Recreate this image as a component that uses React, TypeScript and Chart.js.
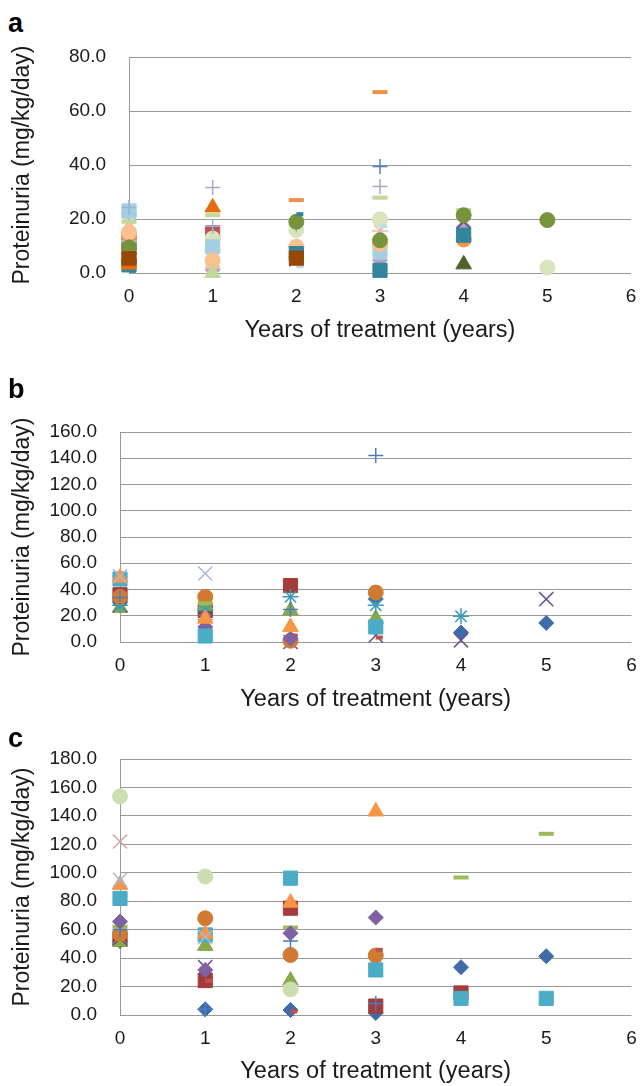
import React, { useEffect, useRef } from 'react';
import { Chart, registerables } from 'chart.js';

Chart.register(...registerables);

// ---------- data ----------
const years = [0, 1, 2, 3, 4, 5];
const xTicks = [0, 1, 2, 3, 4, 5, 6];
const aTicks = [0, 20, 40, 60, 80];
const bTicks = [0, 20, 40, 60, 80, 100, 120, 140, 160];
const cTicks = [0, 20, 40, 60, 80, 100, 120, 140, 160, 180];

const xTitle = 'Years of treatment (years)';
const yTitle = 'Proteinuria (mg/kg/day)';

type V = (number | null)[];

const aValues: V[] = [
  [9, null, 6, null, null, null],
  [11, 14.9, null, null, null, null],
  [10, null, null, null, null, null],
  [9.7, null, 5, null, null, null],
  [7, null, null, null, null, null],
  [13, null, null, null, 12.4, null],
  [8, null, null, 39.4, null, null],
  [6, null, null, null, null, null],
  [12, null, null, null, null, null],
  [7.5, null, null, null, null, null],
  [11.5, null, null, null, null, null],
  [16.5, null, null, null, null, null],
  [14, null, null, null, null, null],
  [12, 8.5, 9.7, 15.6, null, null],
  [21.7, 12.8, 15.9, 19.9, null, 2],
  [22, 31.7, 18, 32, null, null],
  [15, null, 2.5, 17.3, null, null],
  [12.8, null, 27, 67, null, null],
  [10, 1.2, null, 4.7, 17.1, null],
  [23, 9.7, null, 7.8, null, null],
  [16, 3.5, null, null, null, null],
  [8, null, null, null, 19, null],
  [7, null, null, null, null, null],
  [15, 4.7, 9.7, 10.7, null, null],
  [24.3, 17.3, null, null, null, null],
  [19, 21.4, null, 27.9, 23.3, null],
  [5, 24.3, null, null, null, null],
  [6, null, null, null, 3.2, null],
  [3, null, 7.2, 1, 14, null],
  [9.5, null, 19, 12.1, 21.4, 19.6],
  [5.3, null, 5.5, null, null, null],
  [0.8, null, 21.8, null, null, null],
  [2, null, null, null, null, null],
  [null, 0, null, null, null, null],
];
const aStyles = [
  'diamond', 'square', 'triangle', 'x', 'star', 'circle', 'plus', 'dash', 'longdash',
  'diamond', 'square', 'triangle', 'x', 'star', 'circle', 'plus', 'dash', 'longdash',
  'diamond', 'square', 'triangle', 'x', 'star', 'circle', 'plus', 'longdash', 'triangle',
  'triangle', 'square', 'circle', 'square', 'dash', 'longdash', 'triangle',
];
const aColors = [
  '#4F81BD', '#C0504D', '#9BBB59', '#8064A2', '#4BACC6', '#F79646', '#4F81BD', '#C0504D', '#9BBB59',
  '#8064A2', '#4BACC6', '#F79646', '#A7B9DC', '#E6B9B8', '#D7E4BD', '#B3A2C7', '#B7DEE8', '#F0904A',
  '#B3A2C7', '#A5CFE0', '#FBC5A0', '#5F497A', '#31859C', '#FAC090', '#95B3D7', '#C3D69B', '#E46C0A',
  '#4F6228', '#31859C', '#77933C', '#984807', '#31859C', '#E46C0A', '#C3D69B',
];

const bValues: V[] = [
  [30, 22, null, 32.8, 7.2, 14.5],
  [36, 24, 43, null, null, null],
  [26, 28, 24, 17.8, null, null],
  [28, 12, 0, 5, 1.3, 32.6],
  [28, 24, 34.4, 28, 19.6, null],
  [34.4, 34.4, 1, 37.7, null, null],
  [34, null, 24.7, 142.1, null, null],
  [null, null, 5, 3.4, null, null],
  [null, 29.5, null, null, null, null],
  [null, 11.5, 2.6, null, null, null],
  [48, 4.6, null, 11.5, null, null],
  [49, 17.8, 11.5, null, null, null],
  [50, 52.2, null, null, null, null],
];
const bStyles = [
  'diamond', 'square', 'triangle', 'x', 'star', 'circle', 'plus', 'dash', 'longdash',
  'diamond', 'square', 'triangle', 'x',
];
const bColors = [
  '#3F6CA9', '#A23D3B', '#88A84A', '#6A4F8F', '#3A9CB8', '#D07A32', '#4A7EC0', '#C0504D', '#9BBB59',
  '#7F62A1', '#4BACC6', '#F79646', '#A5B7DB',
];

const cValues: V[] = [
  [52, 4, 3.5, 1.4, 33.6, 41.3],
  [53.3, 24.2, 75.1, 6.3, 15.5, null],
  [51.5, 48.6, 24.2, null, null, null],
  [54, 33.6, null, null, null, null],
  [57, 68, 42.2, 41.8, null, null],
  [60, 4, 52, 8, null, null],
  [null, 24, 2.5, 45.8, null, null],
  [62, null, 61.5, null, 96.7, 127.4],
  [65.7, 31.7, 57.5, 68.5, null, null],
  [82, 56.3, 96.2, 31.7, 11.7, 11.7],
  [91.5, 57, 79, 143.1, null, null],
  [95, 54.7, null, null, null, null],
  [153.7, 97.4, 18, null, null, null],
  [122, null, null, null, null, null],
];
const cStyles = [
  'diamond', 'square', 'triangle', 'x', 'circle', 'plus', 'dash', 'longdash',
  'diamond', 'square', 'triangle', 'x', 'circle', 'x',
];
const cColors = [
  '#3F6CA9', '#A23D3B', '#88A84A', '#6A4F8F', '#D07A32', '#4A7EC0', '#C0504D', '#9BBB59',
  '#7F62A1', '#4BACC6', '#F79646', '#A5B7DB', '#CCDDB0', '#D9A0A0',
];

// ---------- styling ----------
const FONT = "'Liberation Sans', Arial, Helvetica, sans-serif";
const TEXT = '#1a1a1a';
const GRID = '#999999';

function marker(style: string) {
  switch (style) {
    case 'diamond': return { ps: 'rectRot', r: 7.5, w: 1 };
    case 'square': return { ps: 'rect', r: 10, w: 1 };
    case 'triangle': return { ps: 'triangle', r: 9, w: 1 };
    case 'x': return { ps: 'crossRot', r: 10, w: 1.5 };
    case 'star': return { ps: 'star', r: 8, w: 1.5 };
    case 'circle': return { ps: 'circle', r: 7.5, w: 1 };
    case 'plus': return { ps: 'cross', r: 7.5, w: 1.5 };
    case 'dash': return { ps: 'dash', r: 7, w: 4 };
    case 'longdash': return { ps: 'line', r: 7.5, w: 4 };
    default: return { ps: 'circle', r: 7, w: 1 };
  }
}

interface Geom {
  top: number; height: number; left: number; right: number; padTop: number;
  xHeight: number; xTitlePad: number;
}

function zeroPad(s: any) {
  s.paddingTop = 0;
  s.paddingBottom = 0;
  s.paddingLeft = 0;
  s.paddingRight = 0;
}

function Panel({ values, styles, colors, ticks, geom }: {
  values: V[]; styles: string[]; colors: string[]; ticks: number[]; geom: Geom;
}) {
  const ref = useRef<HTMLCanvasElement>(null);
  useEffect(() => {
    if (!ref.current) return;
    const n = values.length;
    const datasets = values.map((vals, i) => {
      const m = marker(styles[i]);
      const data = years
        .map((x, j) => (vals[j] == null ? null : { x, y: vals[j] as number }))
        .filter((p) => p !== null);
      return {
        label: 'S' + (i + 1),
        data,
        pointStyle: m.ps,
        pointRadius: m.r,
        pointHoverRadius: m.r,
        pointBorderWidth: m.w,
        pointBackgroundColor: colors[i],
        pointBorderColor: colors[i],
        showLine: false,
        clip: false,
        order: n - i,
      };
    });
    const yMax = ticks[ticks.length - 1];
    const chart = new Chart(ref.current, {
      type: 'scatter',
      data: { datasets: datasets as any },
      options: {
        responsive: false,
        animation: false,
        devicePixelRatio: 1,
        events: [],
        layout: { padding: { top: geom.padTop, right: geom.right, left: 0, bottom: 0 } },
        plugins: { legend: { display: false }, tooltip: { enabled: false } },
        scales: {
          x: {
            type: 'linear',
            min: 0,
            max: 6,
            afterBuildTicks: (s: any) => { s.ticks = xTicks.map((v) => ({ value: v })); },
            afterFit: (s: any) => { s.height = geom.xHeight; zeroPad(s); },
            grid: { display: false, drawTicks: false },
            border: { display: false },
            ticks: {
              padding: 12,
              color: TEXT,
              font: { family: FONT, size: 19 },
              callback: (v: any) => String(v),
            },
            title: {
              display: true,
              text: xTitle,
              color: TEXT,
              font: { family: FONT, size: 23.5 },
              padding: { top: 0, bottom: geom.xTitlePad },
            },
          },
          y: {
            type: 'linear',
            min: 0,
            max: yMax,
            afterBuildTicks: (s: any) => { s.ticks = ticks.map((v) => ({ value: v })); },
            afterFit: (s: any) => { s.width = geom.left; zeroPad(s); },
            grid: { color: GRID, lineWidth: 1, drawTicks: false },
            border: { display: true, color: GRID, width: 1 },
            ticks: {
              padding: 23,
              color: TEXT,
              font: { family: FONT, size: 19 },
              callback: (v: any) => Number(v).toFixed(1),
            },
            title: {
              display: true,
              text: yTitle,
              color: TEXT,
              font: { family: FONT, size: 23 },
              padding: { top: 8.7, bottom: 0 },
            },
          },
        },
      } as any,
    });
    return () => chart.destroy();
  }, []);
  return (
    <canvas
      ref={ref}
      width={643}
      height={geom.height}
      style={{ position: 'absolute', left: 0, top: geom.top, width: 643, height: geom.height }}
    />
  );
}

const labelStyle: React.CSSProperties = {
  position: 'absolute',
  left: 8,
  fontFamily: FONT,
  fontWeight: 'bold',
  fontSize: 27,
  lineHeight: 'normal',
  color: '#000',
};

export default function App() {
  const gA: Geom = { top: 40, height: 305, left: 129, right: 12, padTop: 17, xHeight: 72, xTitlePad: 0.7 };
  const gB: Geom = { top: 380, height: 335, left: 120, right: 9, padTop: 52, xHeight: 73, xTitlePad: 1.7 };
  const gC: Geom = { top: 730, height: 356, left: 120, right: 9, padTop: 29, xHeight: 71, xTitlePad: 0 };
  return (
    <div style={{ position: 'absolute', left: 0, top: 0, width: 643, height: 1086, background: '#fff', overflow: 'hidden' }}>
      <Panel values={aValues} styles={aStyles} colors={aColors} ticks={aTicks} geom={gA} />
      <Panel values={bValues} styles={bStyles} colors={bColors} ticks={bTicks} geom={gB} />
      <Panel values={cValues} styles={cStyles} colors={cColors} ticks={cTicks} geom={gC} />
      <div style={{ ...labelStyle, top: 7.6 }}>a</div>
      <div style={{ ...labelStyle, top: 373.9 }}>b</div>
      <div style={{ ...labelStyle, top: 722.6 }}>c</div>
    </div>
  );
}
